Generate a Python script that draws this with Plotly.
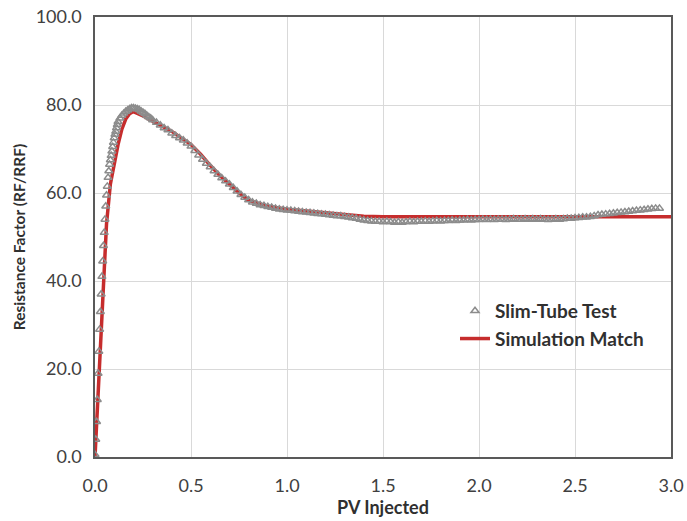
import plotly.graph_objects as go

# Slim-tube test (experimental) data
test_x = [0.000, 0.004, 0.008, 0.012, 0.016, 0.020, 0.024, 0.028, 0.032, 0.036,
          0.040, 0.044, 0.048, 0.052, 0.056, 0.060, 0.064, 0.068, 0.072, 0.076,
          0.080, 0.084, 0.088, 0.092, 0.096, 0.100, 0.104, 0.108, 0.112, 0.116,
          0.120, 0.13, 0.14, 0.15, 0.16, 0.17, 0.18, 0.19, 0.20, 0.21,
          0.22, 0.23, 0.24, 0.25, 0.26, 0.27, 0.28, 0.29, 0.30,
          0.32, 0.34, 0.36, 0.38, 0.40, 0.42, 0.44, 0.46, 0.48, 0.50,
          0.52, 0.54, 0.56, 0.58, 0.60, 0.62, 0.64, 0.66, 0.68, 0.70,
          0.72, 0.74, 0.76, 0.78, 0.80, 0.82, 0.84, 0.86, 0.88, 0.90,
          0.92, 0.94, 0.96, 0.98, 1.00, 1.02, 1.04, 1.06, 1.08, 1.10,
          1.12, 1.14, 1.16, 1.18, 1.20, 1.22, 1.24, 1.26, 1.28, 1.30,
          1.32, 1.34, 1.36, 1.38, 1.40, 1.42, 1.44, 1.46, 1.48, 1.50,
          1.52, 1.54, 1.56, 1.58, 1.60, 1.62, 1.64, 1.66, 1.68, 1.70,
          1.72, 1.74, 1.76, 1.78, 1.80, 1.82, 1.84, 1.86, 1.88, 1.90,
          1.92, 1.94, 1.96, 1.98, 2.00, 2.02, 2.04, 2.06, 2.08, 2.10,
          2.12, 2.14, 2.16, 2.18, 2.20, 2.22, 2.24, 2.26, 2.28, 2.30,
          2.32, 2.34, 2.36, 2.38, 2.40, 2.42, 2.44, 2.46, 2.48, 2.50,
          2.52, 2.54, 2.56, 2.58, 2.60, 2.62, 2.64, 2.66, 2.68, 2.70,
          2.72, 2.74, 2.76, 2.78, 2.80, 2.82, 2.84, 2.86, 2.88, 2.90,
          2.92, 2.94]
test_y = [0.5, 4, 8, 13, 19, 24, 29, 33, 37, 41,
          44.5, 48, 51, 54, 57, 59.5, 61.5, 63.5, 65, 66.5,
          67.5, 68.5, 69.5, 70.5, 71.5, 72.5, 73.3, 74, 74.8, 75.5,
          76.2, 77, 77.6, 78.1, 78.5, 78.8, 79.1, 79.3, 79.3, 79.2,
          79.1, 78.9, 78.6, 78.3, 78.0, 77.6, 77.3, 77.0, 76.6,
          76.0, 75.4, 74.8, 74.3, 73.6, 73.0, 72.5, 72.0, 71.3, 70.6,
          69.6, 68.6, 67.6, 66.7, 65.9, 65.0, 64.2, 63.4, 62.7, 62.0,
          61.2, 60.4, 59.6, 59.0, 58.4, 57.9, 57.6, 57.3, 57.1, 56.9,
          56.7, 56.5, 56.3, 56.2, 56.1, 56.0, 55.9, 55.8, 55.7, 55.6,
          55.5, 55.4, 55.3, 55.2, 55.1, 55.0, 54.9, 54.8, 54.8, 54.6,
          54.5, 54.3, 54.2, 54.0, 53.8, 53.7, 53.6, 53.5, 53.5, 53.4,
          53.5, 53.4, 53.3, 53.4, 53.3, 53.4, 53.5, 53.4, 53.5, 53.5,
          53.6, 53.5, 53.6, 53.7, 53.6, 53.7, 53.7, 53.8, 53.7, 53.8,
          53.8, 53.9, 53.8, 53.9, 53.9, 54.0, 53.9, 54.0, 53.9, 54.0,
          54.0, 53.9, 54.0, 54.1, 54.0, 54.0, 54.1, 54.0, 54.1, 54.0,
          54.1, 54.0, 53.9, 54.0, 54.1, 54.0, 54.1, 54.2, 54.2, 54.3,
          54.4, 54.5, 54.5, 54.6, 54.8, 55.0, 55.1, 55.2, 55.3, 55.4,
          55.5, 55.6, 55.7, 55.8, 55.9, 56.0, 56.1, 56.2, 56.3, 56.4,
          56.5, 56.5]

# Simulation match
sim_x = [0, 0.02, 0.04, 0.06, 0.08, 0.10, 0.12, 0.14, 0.16, 0.18, 0.20,
         0.25, 0.30, 0.40, 0.50, 0.55, 0.60, 0.65, 0.70, 0.75, 0.80,
         0.90, 1.00, 1.10, 1.20, 1.30, 1.40, 1.50, 2.00, 2.50, 3.00]
sim_y = [0, 18, 38, 53, 62, 67, 71, 74.5, 76.8, 78, 78.5,
         77.5, 76.3, 74, 71, 68.8, 66.3, 64, 62, 60, 58.3,
         57, 56.3, 55.9, 55.4, 55.0, 54.7, 54.6, 54.6, 54.6, 54.6]

x_ticks = [0.0, 0.5, 1.0, 1.5, 2.0, 2.5, 3.0]
y_ticks = [0.0, 20.0, 40.0, 60.0, 80.0, 100.0]

FONT = "Lato"

fig = go.Figure()
fig.add_trace(go.Scatter(
    x=sim_x, y=sim_y, mode="lines", name="Simulation Match",
    line=dict(color="#c62d2d", width=3.5),
))
fig.add_trace(go.Scatter(
    x=test_x, y=test_y, mode="markers", name="Slim-Tube Test",
    marker=dict(symbol="triangle-up-open", size=7, color="#8c8c8c",
                line=dict(width=1.5, color="#8c8c8c")),
))

fig.update_layout(
    width=687, height=521,
    margin=dict(l=95, r=16, t=17, b=64),
    paper_bgcolor="white", plot_bgcolor="white",
    font=dict(family=FONT, color="#404040"),
    showlegend=True,
    legend=dict(x=0.625, y=0.375, xanchor="left", yanchor="top",
                bgcolor="rgba(0,0,0,0)", traceorder="reversed",
                font=dict(family=FONT, size=19, color="#303030", weight="bold"),
                itemwidth=30, tracegroupgap=0),
    xaxis=dict(range=[0, 3.0], tickvals=x_ticks,
               ticktext=[f"{v:.1f}" for v in x_ticks],
               tickfont=dict(size=18, color="#404040"),
               ticklabelstandoff=12, automargin=False,
               showgrid=True, gridcolor="#d9d9d9", gridwidth=1,
               showline=True, linecolor="#595959", linewidth=1.5, mirror=True,
               zeroline=False, ticks="",
               title=dict(text="PV Injected", standoff=4,
                          font=dict(size=18, color="#303030", weight="bold"))),
    yaxis=dict(range=[0, 100], tickvals=y_ticks,
               ticktext=[f"{v:.1f}" for v in y_ticks],
               tickfont=dict(size=18, color="#404040"),
               ticklabelstandoff=8, automargin=False,
               showgrid=True, gridcolor="#d9d9d9", gridwidth=1,
               showline=True, linecolor="#595959", linewidth=1.5, mirror=True,
               zeroline=False, ticks="",
               title=dict(text="Resistance Factor (RF/RRF)", standoff=6,
                          font=dict(size=15.5, color="#303030", weight="bold"))),
)

fig.write_html("out.html")
